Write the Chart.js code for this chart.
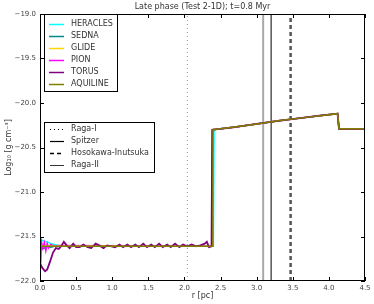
<!DOCTYPE html>
<html><head><meta charset="utf-8">
<script src="https://cdn.jsdelivr.net/npm/chart.js@4/dist/chart.umd.min.js"></script>
<style>html,body{margin:0;padding:0;background:#fff}#wrap{width:374px;height:304px;position:relative}</style>
</head><body><div id="wrap"><canvas id="c" width="374" height="304"></canvas></div>
<script>
// ---- data ----
const titleText = "Late phase (Test 2-1D); t=0.8 Myr";
const xTicks = [0.0,0.5,1.0,1.5,2.0,2.5,3.0,3.5,4.0,4.5];
const yTicks = [-22.0,-21.5,-21.0,-20.5,-20.0,-19.5,-19.0];

const shellR = [2.5, 2.7, 3.0, 3.3, 3.6, 3.9, 4.12];
const shellY = [-20.29, -20.27, -20.235, -20.20, -20.17, -20.14, -20.12];
const postR  = [4.14, 4.5];
const postY  = [-20.29, -20.29];

const heraclesR = [0, 0.05, 0.10, 0.15, 0.20, 0.25, 0.30, 2.40, 2.41];
const heraclesY = [-21.53, -21.55, -21.56, -21.58, -21.59, -21.60, -21.61, -21.61, -20.30];
const sednaR = [0, 0.03, 0.06, 0.10, 0.15, 0.20, 2.38, 2.39];
const sednaY = [-21.62, -21.64, -21.63, -21.61, -21.62, -21.61, -21.61, -20.30];
const glideR = [0, 2.385, 2.395];
const glideY = [-21.61, -21.61, -20.30];
const pionR = [0, 0.01, 0.02, 0.04, 0.06, 0.08, 0.10, 0.12, 0.15, 0.20, 0.25, 2.38, 2.39];
const pionY = [-21.55, -21.80, -21.56, -21.63, -21.57, -21.66, -21.58, -21.63, -21.59, -21.61, -21.60, -21.61, -20.30];
const torusR = [0, 0.03, 0.07, 0.10, 0.14, 0.18, 0.22, 0.26, 0.30, 0.33, 0.37, 0.41, 0.46, 0.50, 0.55, 0.60, 0.66, 0.71, 0.77, 0.82, 0.88, 0.93, 0.99, 1.04, 1.10, 1.15, 1.21, 1.26, 1.32, 1.37, 1.43, 1.48, 1.54, 1.59, 1.65, 1.70, 1.76, 1.81, 1.87, 1.93, 1.98, 2.04, 2.10, 2.16, 2.22, 2.28, 2.31, 2.34, 2.375, 2.385];
const torusY = [-21.80, -21.85, -21.89, -21.87, -21.78, -21.68, -21.63, -21.64, -21.60, -21.56, -21.60, -21.63, -21.58, -21.62, -21.62, -21.59, -21.62, -21.63, -21.58, -21.60, -21.63, -21.60, -21.61, -21.62, -21.59, -21.62, -21.59, -21.62, -21.59, -21.62, -21.58, -21.62, -21.59, -21.62, -21.58, -21.62, -21.59, -21.62, -21.58, -21.62, -21.59, -21.61, -21.59, -21.61, -21.60, -21.58, -21.56, -21.62, -21.61, -20.30];
const aquilineR = [0, 2.385, 2.395];
const aquilineY = [-21.61, -21.61, -20.30];

const codeNames = ["HERACLES","SEDNA","GLIDE","PION","TORUS","AQUILINE"];
const codeColors = ["#00ffff","#008b8b","#ffd700","#ff00ff","#800080","#808000"];

const refNames = ["Raga-I","Spitzer","Hosokawa-Inutsuka","Raga-II"];
const refR = [2.04, 3.20, 3.47, 3.09];

function pts(r, y, full) {
  const R = full ? r.concat(shellR, postR) : r;
  const Y = full ? y.concat(shellY, postY) : y;
  return R.map((v, i) => ({x: v, y: Y[i]}));
}

const seriesData = [
  pts(heraclesR, heraclesY, true),
  pts(sednaR, sednaY, true),
  pts(glideR, glideY, true),
  pts(pionR, pionY, true),
  pts(torusR, torusY, true),
  pts(aquilineR, aquilineY, true)
];

const refStyles = [
  {color:"#9a9a9a", width:1, dash:[1,3]},
  {color:"#000000", width:1, dash:[]},
  {color:"#555555", width:2.5, dash:[4,3]},
  {color:"#a8a8a8", width:2, dash:[]}
];

const datasets = [];
refR.forEach((r, i) => {
  datasets.push({label: refNames[i], data: [{x:r,y:-22},{x:r,y:-19}],
    borderColor: refStyles[i].color, borderWidth: refStyles[i].width, borderDash: refStyles[i].dash,
    pointRadius: 0, tension: 0, order: 10});
});
const drawOrder = [6,5,3,4,2,1];
const widths = [1.5,1.5,1.5,1.5,1.8,1.5];
codeNames.forEach((n, i) => {
  datasets.push({label: n, data: seriesData[i], borderColor: codeColors[i], borderWidth: widths[i],
    pointRadius: 0, tension: 0, order: drawOrder[i]});
});

const FONT = "DejaVu Sans";
const deco = {
  id: 'deco',
  afterDraw(chart) {
    const {ctx, chartArea: a} = chart;
    const xs = chart.scales.x, ys = chart.scales.y;
    ctx.save();
    ctx.strokeStyle = "#000"; ctx.lineWidth = 1;
    ctx.strokeRect(a.left + 0.5, a.top + 0.5, a.right - a.left - 1, a.bottom - a.top - 1);
    ctx.beginPath();
    xTicks.forEach(t => { const p = Math.round(xs.getPixelForValue(t)) + 0.5;
      ctx.moveTo(p, a.bottom); ctx.lineTo(p, a.bottom - 4);
      ctx.moveTo(p, a.top); ctx.lineTo(p, a.top + 4); });
    yTicks.forEach(t => { const p = Math.round(ys.getPixelForValue(t)) + 0.5;
      ctx.moveTo(a.left, p); ctx.lineTo(a.left + 4, p);
      ctx.moveTo(a.right, p); ctx.lineTo(a.right - 4, p); });
    ctx.stroke();
    ctx.fillStyle = "#333"; ctx.font = "8px '" + FONT + "'";
    ctx.textAlign = "center"; ctx.textBaseline = "middle";
    ctx.fillText(titleText, (a.left + a.right) / 2, 7);
    ctx.fillText("r [pc]", (a.left + a.right) / 2, 296);
    ctx.save(); ctx.translate(9, (a.top + a.bottom) / 2); ctx.rotate(-Math.PI / 2);
    ctx.fillText("Log\u2081\u2080 [g cm\u207B\u00B3]", 0, 0); ctx.restore();
    function box(x0, y0, x1, y1) {
      ctx.fillStyle = "#fff"; ctx.fillRect(x0, y0, x1 - x0, y1 - y0);
      ctx.strokeStyle = "#000"; ctx.lineWidth = 1; ctx.setLineDash([]);
      ctx.strokeRect(x0 + 0.5, y0 + 0.5, x1 - x0, y1 - y0);
    }
    box(44, 14, 117, 91);
    ctx.textAlign = "left";
    codeNames.forEach((n, i) => {
      const y = 24 + i * 12;
      ctx.strokeStyle = codeColors[i]; ctx.lineWidth = 1.5; ctx.setLineDash([]);
      ctx.beginPath(); ctx.moveTo(49, y + 0.5); ctx.lineTo(64, y + 0.5); ctx.stroke();
      ctx.fillStyle = "#333"; ctx.fillText(n, 71, y);
    });
    box(44, 122, 154, 172);
    const legStyles = [
      {color:"#000", width:1, dash:[1,3]},
      {color:"#000", width:1.2, dash:[]},
      {color:"#000", width:1.5, dash:[4,3]},
      {color:"#000", width:0.8, dash:[]}
    ];
    refNames.forEach((n, i) => {
      const y = 129 + i * 12;
      ctx.strokeStyle = legStyles[i].color; ctx.lineWidth = legStyles[i].width; ctx.setLineDash(legStyles[i].dash);
      ctx.beginPath(); ctx.moveTo(50, y + 0.5); ctx.lineTo(64, y + 0.5); ctx.stroke();
      ctx.setLineDash([]);
      ctx.fillStyle = "#333"; ctx.fillText(n, 71, y);
    });
    ctx.restore();
  }
};

const fmt = v => (v < 0 ? "\u2212" : "") + Math.abs(v).toFixed(1);

new Chart(document.getElementById('c'), {
  type: 'line',
  data: {datasets},
  options: {
    responsive: false, animation: false, devicePixelRatio: 1,
    layout: {padding: {top: 14, right: 9, left: 0, bottom: 0}},
    plugins: {legend: {display: false}, tooltip: {enabled: false}},
    scales: {
      x: {type: 'linear', min: 0, max: 4.5,
        afterBuildTicks: s => { s.ticks = xTicks.map(v => ({value: v})); },
        afterFit: s => { s.height = 23; },
        grid: {display: false, drawTicks: false},
        border: {display: false},
        ticks: {callback: fmt, font: {family: FONT, size: 7}, color: "#444", padding: 3, maxRotation: 0, autoSkip: false}},
      y: {type: 'linear', min: -22, max: -19,
        afterBuildTicks: s => { s.ticks = yTicks.map(v => ({value: v})); },
        afterFit: s => { s.width = 40; },
        grid: {display: false, drawTicks: false},
        border: {display: false},
        ticks: {callback: fmt, font: {family: FONT, size: 7}, color: "#444", padding: 4, autoSkip: false}}
    }
  },
  plugins: [deco]
});
</script></body></html>
